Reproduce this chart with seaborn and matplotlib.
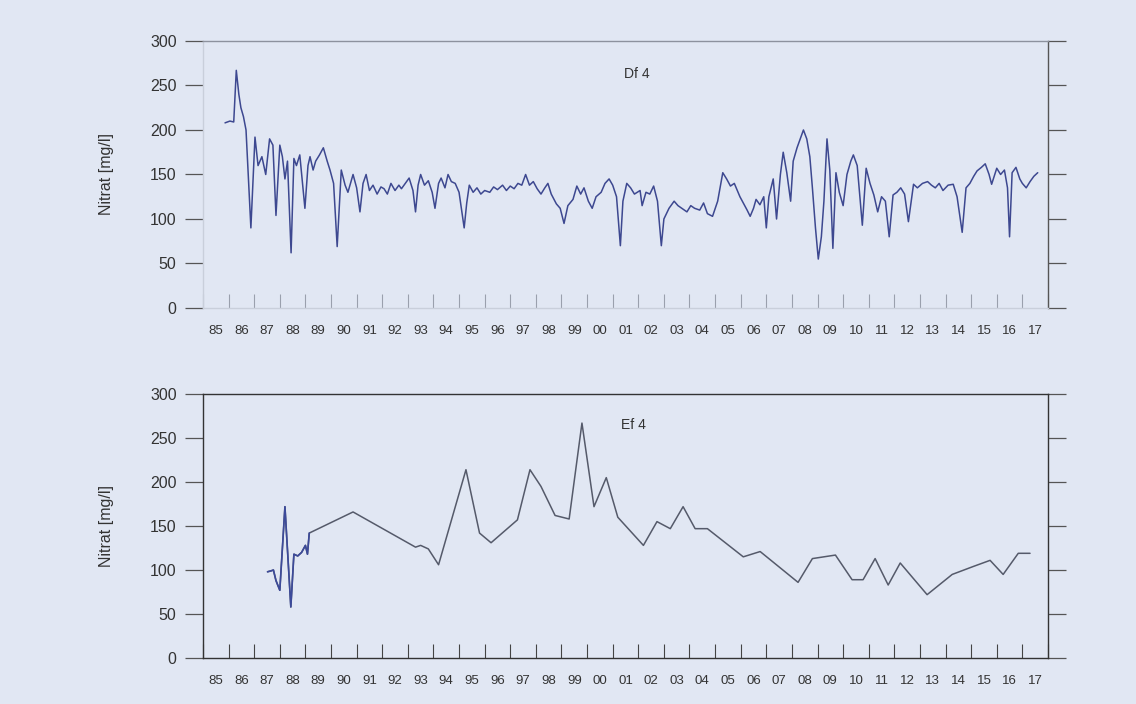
import matplotlib
matplotlib.use("Agg")
import matplotlib.pyplot as plt
import seaborn as sns
import pandas as pd

# --- Df 4: dense record (decimal year, nitrate mg/l) ---
df4_year = [
    1985.86, 1986.05, 1986.2, 1986.3, 1986.4, 1986.48, 1986.58, 1986.68, 1986.87,
    1987.03, 1987.15, 1987.3, 1987.45, 1987.6, 1987.73, 1987.85, 1988.0, 1988.1,
    1988.2, 1988.3, 1988.44, 1988.55, 1988.65, 1988.78, 1988.98, 1989.1, 1989.18,
    1989.3, 1989.4, 1989.55, 1989.7, 1989.85, 1989.96, 1990.1, 1990.24, 1990.4,
    1990.55, 1990.66, 1990.86, 1991.0, 1991.13, 1991.25, 1991.37, 1991.5, 1991.64,
    1991.8, 1991.95, 1992.07, 1992.2, 1992.34, 1992.5, 1992.65, 1992.75, 1992.9,
    1993.05, 1993.2, 1993.3, 1993.4, 1993.5, 1993.65, 1993.8, 1993.95, 1994.06,
    1994.2, 1994.3, 1994.45, 1994.57, 1994.7, 1994.85, 1995.0, 1995.2, 1995.3,
    1995.4, 1995.55, 1995.7, 1995.85, 1996.0, 1996.2, 1996.35, 1996.5, 1996.7,
    1996.85, 1997.0, 1997.15, 1997.3, 1997.45, 1997.6, 1997.75, 1997.9, 1998.05,
    1998.2, 1998.35, 1998.47, 1998.6, 1998.8, 1998.95, 1999.1, 1999.25, 1999.45,
    1999.6, 1999.75, 1999.88, 2000.05, 2000.2, 2000.35, 2000.55, 2000.7, 2000.86,
    2001.0, 2001.15, 2001.3, 2001.4, 2001.55, 2001.7, 2001.85, 2002.07, 2002.15,
    2002.3, 2002.45, 2002.6, 2002.75, 2002.9, 2003.0, 2003.2, 2003.4, 2003.55,
    2003.7, 2003.9, 2004.05, 2004.2, 2004.4, 2004.55, 2004.7, 2004.9, 2005.1,
    2005.3, 2005.45, 2005.6, 2005.75, 2005.97, 2006.1, 2006.25, 2006.37, 2006.5,
    2006.6, 2006.75, 2006.9, 2007.0, 2007.1, 2007.27, 2007.4, 2007.55, 2007.66,
    2007.8, 2007.95, 2008.05, 2008.2, 2008.35, 2008.45, 2008.58, 2008.7, 2008.8,
    2008.92, 2009.03, 2009.15, 2009.25, 2009.37, 2009.48, 2009.6, 2009.72, 2009.85,
    2010.0, 2010.15, 2010.3, 2010.4, 2010.55, 2010.75, 2010.9, 2011.05, 2011.2,
    2011.35, 2011.5, 2011.65, 2011.8, 2011.95, 2012.1, 2012.25, 2012.4, 2012.55,
    2012.75, 2012.9, 2013.1, 2013.3, 2013.45, 2013.6, 2013.75, 2013.9, 2014.1,
    2014.3, 2014.45, 2014.65, 2014.8, 2014.95, 2015.1, 2015.23, 2015.4, 2015.55,
    2015.7, 2015.8, 2016.0, 2016.15, 2016.3, 2016.42, 2016.5, 2016.6, 2016.75,
    2016.9, 2017.0, 2017.15, 2017.3, 2017.45, 2017.6,
]
df4_nitrat = [
    208, 210, 209, 267, 240, 225, 215, 200, 90,
    192, 160, 170, 150, 190, 183, 104, 183, 170,
    145, 165, 62, 168, 160, 172, 112, 160, 170,
    155, 165, 172, 180, 165, 155, 140, 69, 155,
    138, 130, 150, 135, 108, 140, 150, 132, 138,
    128, 136, 134, 128, 140, 132, 138, 134, 140,
    146, 132, 108, 138, 150, 138, 143, 130, 112,
    140, 146, 135, 150, 142, 140, 130, 90, 118,
    138, 130, 135, 128, 132, 130, 136, 133, 138,
    132, 137, 134, 140, 138, 150, 138, 142, 134,
    128, 135, 140, 128, 117, 112, 95, 115, 122,
    137, 128, 135, 120, 112, 125, 130, 140, 145,
    138, 125, 70, 120, 140, 135, 128, 132, 115,
    130, 128, 137, 120, 70, 100, 112, 120, 115,
    112, 108, 115, 112, 110, 118, 106, 103, 120,
    152, 145, 137, 140, 125, 118, 110, 103, 112,
    122, 116, 125, 90, 125, 145, 100, 150, 175,
    152, 120, 165, 180, 192, 200, 190, 170, 135,
    90, 55, 80, 120, 190, 155, 67, 152, 130,
    115, 150, 165, 172, 160, 93, 157, 140, 127,
    108, 125, 120, 80, 127, 130, 135, 128, 97,
    139, 135, 140, 142, 138, 135, 140, 132, 138,
    139, 125, 85, 135, 140, 148, 154, 158, 162,
    150, 139, 157, 150, 155, 135, 80, 152, 158,
    145, 140, 135, 142, 148, 152,
]

# --- Ef 4: sparse record ---
ef4_year = [
    1987.52, 1987.65, 1987.75, 1987.85, 1988.0, 1988.2, 1988.43, 1988.55, 1988.7,
    1988.85, 1989.0, 1989.08, 1989.15, 1990.86, 1993.3, 1993.5, 1993.8, 1994.2,
    1995.27, 1995.8, 1996.25, 1997.28, 1997.77, 1998.2, 1998.75, 1999.3, 1999.8,
    2000.27, 2000.75, 2001.2, 2002.2, 2002.73, 2003.25, 2003.75, 2004.22, 2004.7,
    2006.1, 2006.76, 2008.24, 2008.8, 2009.7, 2010.35, 2010.78, 2011.25, 2011.76,
    2012.23, 2013.28, 2014.26, 2015.08, 2015.74, 2016.25, 2016.84, 2017.3,
]
ef4_nitrat = [
    98, 99, 100, 88, 77, 172, 58, 118, 116,
    120, 128, 118, 142, 166, 126, 128, 124, 106,
    214, 142, 131, 157, 214, 195, 162, 158, 267,
    172, 205, 160, 128, 155, 147, 172, 147, 147,
    115, 121, 86, 113, 117, 89, 89, 113, 83,
    108, 72, 95, 104, 111, 95, 119, 119,
]

year_ticks = list(range(1985, 2019))
year_labels = ["85", "86", "87", "88", "89", "90", "91", "92", "93", "94", "95",
               "96", "97", "98", "99", "00", "01", "02", "03", "04", "05", "06",
               "07", "08", "09", "10", "11", "12", "13", "14", "15", "16", "17"]
y_ticks = [0, 50, 100, 150, 200, 250, 300]

BG = "#e1e7f3"
sns.set_theme(style="ticks")
plt.rcParams["font.family"] = ["Liberation Sans", "DejaVu Sans"]

df_top = pd.DataFrame({"year": df4_year, "nitrat": df4_nitrat})
df_bot = pd.DataFrame({"year": ef4_year, "nitrat": ef4_nitrat})

fig = plt.figure(figsize=(11.36, 7.04), dpi=100, facecolor=BG)
ax1 = fig.add_axes([0.1787, 0.5625, 0.7438, 0.3793])
ax2 = fig.add_axes([0.1787, 0.0653, 0.7438, 0.3750])


def style_axes(ax, light):
    ax.set_facecolor(BG)
    ax.set_xlim(1985, 2018)
    ax.set_ylim(0, 300)
    ax.set_yticks(y_ticks)
    ax.set_yticklabels([str(v) for v in y_ticks], fontsize=11.5, color="#333333")
    ax.tick_params(axis="y", direction="out", length=13, width=0.9,
                   color="#555555", right=True, labelright=False, pad=6)
    ax.set_xticks(year_ticks)
    ax.set_xticklabels([])
    ax.set_xticks([y + 0.5 for y in year_ticks[:-1]], minor=True)
    ax.set_xticklabels(year_labels, minor=True, fontsize=9.5, color="#333333")
    ax.tick_params(axis="x", which="major", direction="in", length=10, width=0.8,
                   color="#9aa0ad" if light else "#444444")
    ax.tick_params(axis="x", which="minor", length=0, pad=12)
    ax.set_ylabel("Nitrat [mg/l]", fontsize=11.5, color="#333333", labelpad=26)
    ax.set_xlabel("")
    if light:
        ax.spines["top"].set_color("#8d929e")
        ax.spines["left"].set_color("#c9cfdb")
        ax.spines["bottom"].set_color("#c9cfdb")
        ax.spines["right"].set_color("#555555")
    else:
        for s in ax.spines.values():
            s.set_color("#333333")
    for s in ax.spines.values():
        s.set_linewidth(1.0)


sns.lineplot(data=df_top, x="year", y="nitrat", ax=ax1, sort=False,
             estimator=None, color="#3d4890", linewidth=1.1)
style_axes(ax1, light=True)
ax1.text(2001.95, 263, "Df 4", ha="center", va="center", fontsize=10,
         color="#333333")

sns.lineplot(data=df_bot, x="year", y="nitrat", ax=ax2, sort=False,
             estimator=None, color="#555a6a", linewidth=1.1)
sns.lineplot(data=df_bot.iloc[:13], x="year", y="nitrat", ax=ax2, sort=False,
             estimator=None, color="#3c4a9a", linewidth=1.2)
style_axes(ax2, light=False)
ax2.text(2001.8, 265, "Ef 4", ha="center", va="center", fontsize=10,
         color="#333333")

fig.savefig("out.png", dpi=100, facecolor=BG)
